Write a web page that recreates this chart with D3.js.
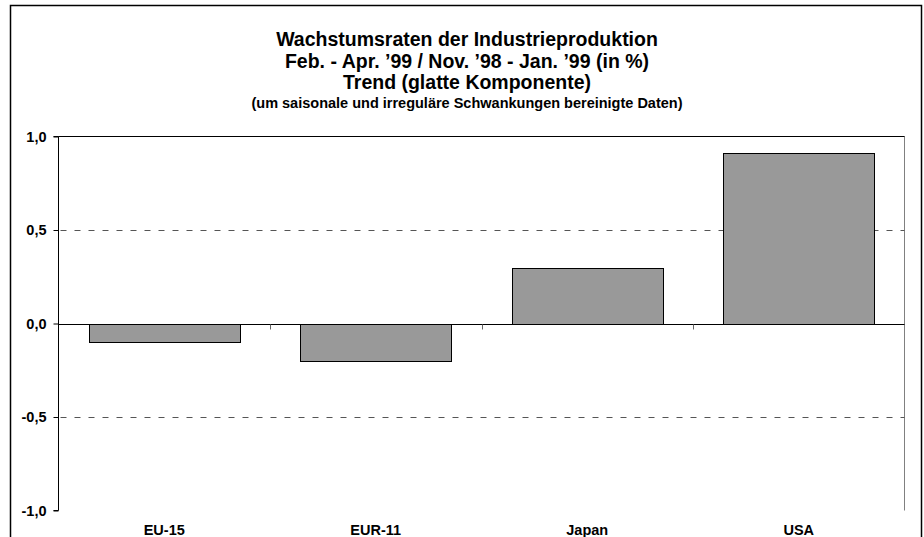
<!DOCTYPE html>
<html><head><meta charset="utf-8">
<script src="https://cdn.jsdelivr.net/npm/d3@7"></script>
<style>html,body{margin:0;padding:0;background:#fff;}svg{display:block;font-family:"Liberation Sans",Arial,sans-serif;}</style>
</head><body>
<svg id="c" width="924" height="537"></svg>
<script>
const categories = ["EU-15", "EUR-11", "Japan", "USA"];
const values = [-0.1, -0.2, 0.295, 0.91];
const yTicks = [-1.0, -0.5, 0.0, 0.5, 1.0];
const gridValues = [-0.5, 0.5];
const titleLines = [
  "Wachstumsraten der Industrieproduktion",
  "Feb. - Apr. \u201999 / Nov. \u201998 - Jan. \u201999 (in %)",
  "Trend (glatte Komponente)"
];
const subtitle = "(um saisonale und irregul\u00e4re Schwankungen bereinigte Daten)";

const svg = d3.select("#c");
// outer frame
svg.append("rect").attr("x", 10.5).attr("y", 5.5).attr("width", 911).attr("height", 560)
  .attr("fill", "none").attr("stroke", "#000").attr("stroke-width", 1.5);

const L = 58.5, R = 904.5, T = 136.5, B = 510.5;
const x = d3.scaleBand().domain(categories).range([L, R]).paddingInner(0.286).paddingOuter(0.143);
const y = d3.scaleLinear().domain([-1, 1]).range([B, T]);
const y0 = Math.round(y(0)) + 0.5;

// plot frame
svg.append("path").attr("d", `M${L},${T}H${R}V${B}`).attr("fill", "none").attr("stroke", "#808080");
svg.append("line").attr("x1", L).attr("x2", R).attr("y1", T).attr("y2", T).attr("stroke", "#000");

// grid
svg.selectAll(".grid").data(gridValues).enter().append("line")
  .attr("x1", L + 2).attr("x2", R).attr("y1", d => Math.round(y(d)) + 0.5).attr("y2", d => Math.round(y(d)) + 0.5)
  .attr("stroke", "#555").attr("stroke-dasharray", "6,8");

// bars
svg.selectAll(".bar").data(values).enter().append("rect")
  .attr("x", (d, i) => Math.round(x(categories[i])) + 0.5)
  .attr("width", Math.round(x.bandwidth()))
  .attr("y", d => Math.round(y(Math.max(0, d))) + 0.5)
  .attr("height", d => Math.abs(Math.round(y(d)) - Math.round(y(0))))
  .attr("fill", "#999999").attr("stroke", "#000").attr("stroke-width", 1);

// zero line (category axis) with ticks at band boundaries
svg.append("line").attr("x1", L).attr("x2", R).attr("y1", y0).attr("y2", y0).attr("stroke", "#000");
const step = x.step();
svg.selectAll(".xt").data(categories.slice(1)).enter().append("line")
  .attr("x1", d => Math.round(x(d) - x.paddingInner() * step / 2) + 0.5)
  .attr("x2", d => Math.round(x(d) - x.paddingInner() * step / 2) + 0.5)
  .attr("y1", y0).attr("y2", y0 + 5).attr("stroke", "#666");

// y axis
const yAxis = d3.axisLeft(y).tickValues(yTicks).tickSize(5).tickPadding(7)
  .tickFormat(d => d3.format(".1f")(d).replace(".", ",").replace("\u2212", "-"));
const gy = svg.append("g").attr("transform", `translate(${L},0)`).call(yAxis);
gy.select(".domain").attr("stroke", "#000").attr("d", `M-5,${T}H0V${B}H-5`);
gy.selectAll(".tick line").attr("stroke", "#000");
gy.selectAll(".tick text").attr("font-size", 14.5).attr("font-weight", "bold")
  .attr("font-family", "'Liberation Sans',Arial,sans-serif").attr("fill", "#000");

// x labels
svg.selectAll(".xl").data(categories).enter().append("text")
  .attr("x", d => x(d) + x.bandwidth() / 2).attr("y", 535)
  .attr("text-anchor", "middle").attr("font-size", 14.5).attr("font-weight", "bold").text(d => d);

// titles
const ty = [46, 67.5, 88.5];
svg.selectAll(".t").data(titleLines).enter().append("text")
  .attr("x", 467).attr("y", (d, i) => ty[i]).attr("text-anchor", "middle")
  .attr("font-size", 19.5).attr("font-weight", "bold").text(d => d);
svg.append("text").attr("x", 467).attr("y", 108).attr("text-anchor", "middle")
  .attr("font-size", 14.5).attr("font-weight", "bold").text(subtitle);
</script>
</body></html>
